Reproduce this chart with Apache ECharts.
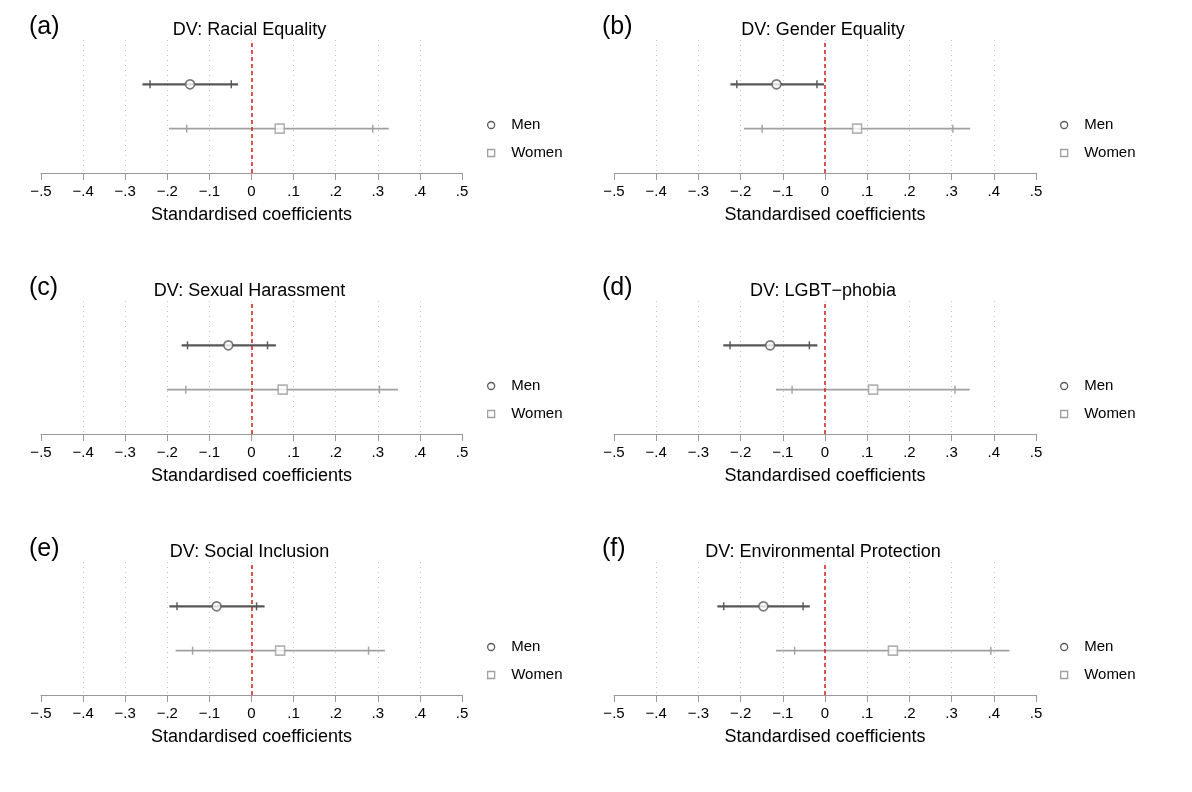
<!DOCTYPE html>
<html>
<head>
<meta charset="utf-8">
<title>Standardised coefficients by gender</title>
<script src="https://cdn.jsdelivr.net/npm/echarts@6/dist/echarts.min.js"></script>
<style>
  html, body { margin: 0; padding: 0; background: #fff; }
  #chart { width: 1192px; height: 792px; }
</style>
</head>
<body>
<div id="chart"></div>
<script>
// panel labels and titles
const panelLetters = ['(a)', '(b)', '(c)', '(d)', '(e)', '(f)'];
const panelTitles = [
    'DV: Racial Equality',
    'DV: Gender Equality',
    'DV: Sexual Harassment',
    'DV: LGBT\u2212phobia',
    'DV: Social Inclusion',
    'DV: Environmental Protection'
];
const groups = ['Men', 'Women'];

// point estimates, one per panel
const menCoef = [-0.146, -0.115, -0.055, -0.130, -0.083, -0.146];
const womenCoef = [0.067, 0.076, 0.074, 0.114, 0.068, 0.161];

// outer interval (line ends) and inner interval (tick marks)
const menOuter = [[-0.259, -0.032], [-0.224, -0.002], [-0.166, 0.058], [-0.241, -0.018], [-0.195, 0.031], [-0.255, -0.036]];
const menInner = [[-0.241, -0.048], [-0.209, -0.019], [-0.152, 0.038], [-0.225, -0.037], [-0.177, 0.012], [-0.240, -0.052]];
const womenOuter = [[-0.196, 0.326], [-0.192, 0.344], [-0.201, 0.348], [-0.116, 0.343], [-0.180, 0.317], [-0.116, 0.437]];
const womenInner = [[-0.154, 0.288], [-0.149, 0.303], [-0.156, 0.304], [-0.078, 0.308], [-0.140, 0.278], [-0.072, 0.393]];

// x axis ticks
const xTickLabels = ['\u2212.5', '\u2212.4', '\u2212.3', '\u2212.2', '\u2212.1', '0', '.1', '.2', '.3', '.4', '.5'];

const FONT = 'Liberation Sans, Arial, Helvetica, sans-serif';
const MEN_COLOR = '#575757';
const WOMEN_COLOR = '#a0a0a0';
const SQUARE = 'path://M0,0L10,0L10,10L0,10Z';

// layout of the 2 x 3 grid
const colLeft = [41, 614];
const colWidth = [421, 422];
const rowTop = [40, 301, 562];
const plotHeight = 133;

function renderCI(params, api) {
    const y = api.value(4);
    const lo = api.coord([api.value(0), y]);
    const il = api.coord([api.value(1), y]);
    const ih = api.coord([api.value(2), y]);
    const hi = api.coord([api.value(3), y]);
    const color = api.visual('color');
    const isMen = params.seriesName === 'Men';
    const tick = 4;
    return {
        type: 'group',
        children: [
            { type: 'line', shape: { x1: lo[0], y1: lo[1], x2: hi[0], y2: hi[1] },
              style: { stroke: color, lineWidth: isMen ? 2.2 : 1.8 } },
            { type: 'line', shape: { x1: il[0], y1: il[1] - tick, x2: il[0], y2: il[1] + tick },
              style: { stroke: color, lineWidth: 1.4 } },
            { type: 'line', shape: { x1: ih[0], y1: ih[1] - tick, x2: ih[0], y2: ih[1] + tick },
              style: { stroke: color, lineWidth: 1.4 } }
        ]
    };
}

const grids = [], xAxes = [], yAxes = [], titles = [], legends = [], series = [];

for (let i = 0; i < 6; i++) {
    const col = i % 2;
    const row = Math.floor(i / 2);
    const left = colLeft[col];
    const top = rowTop[row];

    grids.push({ left: left, top: top, width: colWidth[col], height: plotHeight });

    xAxes.push({
        gridIndex: i,
        type: 'value',
        min: -0.5,
        max: 0.5,
        interval: 0.1,
        name: 'Standardised coefficients',
        nameLocation: 'middle',
        nameGap: 33,
        nameTextStyle: { fontFamily: FONT, fontSize: 18, color: '#000' },
        axisLine: { show: true, lineStyle: { color: '#999', width: 1 } },
        axisTick: { show: true, length: 7, lineStyle: { color: '#999', width: 1 } },
        axisLabel: {
            margin: 11,
            fontFamily: FONT,
            fontSize: 15,
            color: '#000',
            formatter: function (v) { return xTickLabels[Math.round((v + 0.5) * 10)]; }
        },
        splitLine: {
            show: true,
            showMinLine: false,
            showMaxLine: false,
            lineStyle: { color: '#c4c4c4', type: [1, 4], width: 1 }
        }
    });

    yAxes.push({ gridIndex: i, type: 'value', min: 0, max: 3, show: false });

    titles.push({
        text: panelLetters[i],
        left: left - 17,
        top: top - 30,
        textStyle: { fontFamily: FONT, fontSize: 25, fontWeight: 'normal', color: '#000' }
    });
    titles.push({
        text: panelTitles[i],
        left: left + colWidth[col] / 2 - 7,
        top: top - 24,
        textAlign: 'center',
        textStyle: { fontFamily: FONT, fontSize: 18, fontWeight: 'normal', color: '#000' }
    });

    legends.push({
        orient: 'vertical',
        left: col === 0 ? 487 : 1060,
        top: top + 76,
        padding: 0,
        itemGap: 10,
        itemWidth: 30,
        itemHeight: 7,
        symbolKeepAspect: true,
        selectedMode: false,
        textStyle: { fontFamily: FONT, fontSize: 15, color: '#000', lineHeight: 18 },
        data: [
            { name: groups[0], icon: 'circle', itemStyle: { color: '#fff', borderColor: MEN_COLOR, borderWidth: 1.3 } },
            { name: groups[1], icon: SQUARE, itemStyle: { color: '#fff', borderColor: WOMEN_COLOR, borderWidth: 1.3 } }
        ]
    });

    // interval lines
    series.push({
        name: groups[0], type: 'custom', xAxisIndex: i, yAxisIndex: i, z: 2,
        itemStyle: { color: MEN_COLOR },
        renderItem: renderCI,
        encode: { x: [0, 1, 2, 3], y: 4 },
        data: [[menOuter[i][0], menInner[i][0], menInner[i][1], menOuter[i][1], 2]]
    });
    series.push({
        name: groups[1], type: 'custom', xAxisIndex: i, yAxisIndex: i, z: 2,
        itemStyle: { color: WOMEN_COLOR },
        renderItem: renderCI,
        encode: { x: [0, 1, 2, 3], y: 4 },
        data: [[womenOuter[i][0], womenInner[i][0], womenInner[i][1], womenOuter[i][1], 1]]
    });

    // point estimates
    series.push({
        name: groups[0], type: 'scatter', xAxisIndex: i, yAxisIndex: i, z: 4,
        symbol: 'circle', symbolSize: 9,
        itemStyle: { color: '#fff', borderColor: MEN_COLOR, borderWidth: 1.6 },
        data: [[menCoef[i], 2]],
        markLine: {
            silent: true,
            symbol: ['none', 'none'],
            label: { show: false },
            lineStyle: { color: '#d42a2a', width: 1.6, type: [4, 3] },
            data: [{ xAxis: 0 }]
        }
    });
    series.push({
        name: groups[1], type: 'scatter', xAxisIndex: i, yAxisIndex: i, z: 4,
        symbol: 'rect', symbolSize: 9,
        itemStyle: { color: '#fff', borderColor: WOMEN_COLOR, borderWidth: 1.6 },
        data: [[womenCoef[i], 1]]
    });
}

const myChart = echarts.init(document.getElementById('chart'), null, { renderer: 'canvas' });
myChart.setOption({
    animation: false,
    backgroundColor: '#fff',
    title: titles,
    legend: legends,
    grid: grids,
    xAxis: xAxes,
    yAxis: yAxes,
    series: series
});
</script>
</body>
</html>
